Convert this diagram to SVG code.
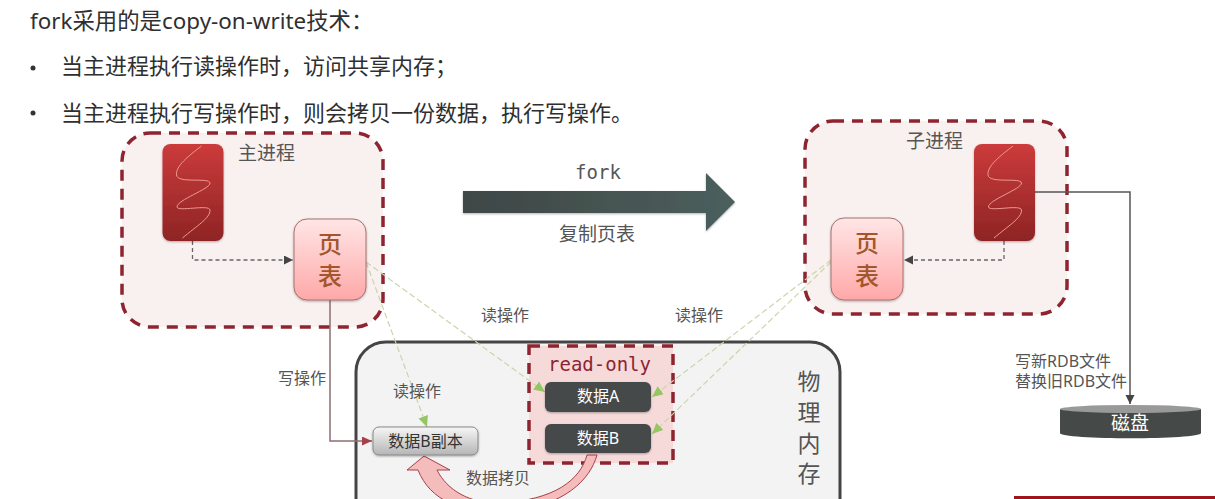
<svg xmlns="http://www.w3.org/2000/svg" width="1215" height="499" viewBox="0 0 1215 499">
<style>
text{font-family:"Noto Sans","Noto Sans CJK SC",sans-serif;fill:#555;font-size:16px}
.head{font-size:22px;fill:#2f2f2f}
.mono{font-family:"DejaVu Sans Mono","Liberation Mono",monospace;font-size:19px}
.big{font-size:19px}
.mid{text-anchor:middle}
.dark{fill:#fff;font-size:16px;text-anchor:middle}
.pg{font-size:24px;fill:#a3562c;text-anchor:middle;font-weight:500}
.zone{fill:#f9f1f0;stroke:#8e2430;stroke-width:3.5;stroke-dasharray:11 8}
.proc{fill:url(#procG);filter:url(#sh)}
.page{fill:url(#pageG);stroke:#a87070;stroke-width:1;filter:url(#sh)}
.data{fill:#454a48;filter:url(#sh)}
.dash{fill:none;stroke:#666;stroke-width:1.3;stroke-dasharray:4 3}
.green{fill:none;stroke:#c9d6ac;stroke-width:1.2;stroke-dasharray:6 3}
</style>
<defs>
<linearGradient id="procG" x1="0" y1="0" x2="0" y2="1"><stop offset="0" stop-color="#cc3b3b"/><stop offset="1" stop-color="#8e2424"/></linearGradient>
<linearGradient id="pageG" x1="0" y1="0" x2="0" y2="1"><stop offset="0" stop-color="#ffe6e6"/><stop offset="1" stop-color="#ffa8a8"/></linearGradient>
<linearGradient id="copyG" x1="0" y1="0" x2="0" y2="1"><stop offset="0" stop-color="#f7f7f7"/><stop offset="1" stop-color="#b5b5b5"/></linearGradient>
<linearGradient id="forkG" x1="0" y1="0" x2="1" y2="0"><stop offset="0" stop-color="#3f4745"/><stop offset="1" stop-color="#4b5f5d"/></linearGradient>
<filter id="sh" x="-10%" y="-10%" width="120%" height="120%"><feDropShadow dx="0" dy="1" stdDeviation="1" flood-color="#000" flood-opacity="0.3"/></filter>
<path id="wave" d="M39,2 C26,12 13,22 14,31 C15,40 47,33 47.500,39 C48,45 14,56 14.500,63 C15,68 47,60 47.500,66 C48,74 34,82 20,94" fill="none" stroke="#ee9a92" stroke-width="1"/>
<marker id="ag" markerUnits="userSpaceOnUse" markerWidth="12" markerHeight="12" refX="11" refY="5" orient="auto"><path d="M0,0 L11,5 L0,10 Z" fill="#94c661"/></marker>
<marker id="ad" markerUnits="userSpaceOnUse" markerWidth="10" markerHeight="10" refX="9" refY="4.500" orient="auto"><path d="M0,0 L9,4.500 L0,9 Z" fill="#444"/></marker>
<marker id="ar" markerUnits="userSpaceOnUse" markerWidth="12" markerHeight="10" refX="10" refY="4.500" orient="auto"><path d="M0,0 L10,4.500 L0,9 Z" fill="#a8404a"/></marker>
</defs>
<rect width="1215" height="499" fill="#fff"/>
<g id="intro">
<text class="head" x="30" y="29" style="font-size:22.4px">fork采用的是copy-on-write技术：</text>
<circle cx="33" cy="68" r="2.500" fill="#333"/>
<text class="head" x="61" y="74">当主进程执行读操作时，访问共享内存；</text>
<circle cx="33" cy="113" r="2.500" fill="#333"/>
<text class="head" x="61" y="121">当主进程执行写操作时，则会拷贝一份数据，执行写操作。</text>
</g>
<g id="main-process-zone"><rect class="zone" x="122" y="133" width="261" height="194" rx="28"/><text class="big" x="238" y="160">主进程</text></g>
<g id="child-process-zone"><rect class="zone" x="805" y="121" width="262" height="193" rx="28"/><text class="big" x="906" y="148">子进程</text></g>
<g id="physical-memory"><rect x="356" y="342" width="484" height="200" rx="30" fill="#f3f3f3" stroke="#444" stroke-width="3"/>
<text x="809" y="390" style="font-size:23px" text-anchor="middle">物</text><text x="809" y="421" style="font-size:23px" text-anchor="middle">理</text><text x="809" y="452" style="font-size:23px" text-anchor="middle">内</text><text x="809" y="482" style="font-size:23px" text-anchor="middle">存</text></g>
<g id="read-only"><rect x="529" y="346" width="144" height="117" fill="#f6dada" stroke="#8e2430" stroke-width="3.500" stroke-dasharray="11 8"/><text class="mono" x="548" y="371" style="fill:#8e2433">read-only</text></g>
<g id="connectors">
<path class="dash" d="M192.500,241 V260 H293" marker-end="url(#ad)"/>
<path class="dash" d="M1004,241 V260 H904" marker-end="url(#ad)"/>
<path d="M330,300 V441 H372" fill="none" stroke="#8c6f70" stroke-width="1.500" marker-end="url(#ar)"/>
<path d="M1035,192 H1130 V404" fill="none" stroke="#555" stroke-width="1.500" marker-end="url(#ad)"/>
<path class="green" d="M366,262 L427,427" marker-end="url(#ag)"/>
<path class="green" d="M366,262 L545,392" marker-end="url(#ag)"/>
<path class="green" d="M831,260 L652,397" marker-end="url(#ag)"/>
<path class="green" d="M831,262 L652,434" marker-end="url(#ag)"/>
</g>
<g id="main-process"><rect class="proc" x="162.500" y="144" width="61" height="97" rx="8"/><use href="#wave" x="162.500" y="144"/></g>
<g id="main-page-table"><rect class="page" x="294" y="219" width="72" height="81" rx="13"/><text class="pg" x="330" y="253">页</text><text class="pg" x="330" y="285">表</text></g>
<g id="child-process"><rect class="proc" x="974" y="144" width="61" height="97" rx="8"/><use href="#wave" x="974" y="144"/></g>
<g id="child-page-table"><rect class="page" x="831" y="218" width="72" height="82" rx="13"/><text class="pg" x="867" y="252">页</text><text class="pg" x="867" y="285">表</text></g>
<g id="fork-arrow"><path d="M463,191 H706 V173 L735,202 L706,231 V213 H463 Z" fill="url(#forkG)" filter="url(#sh)"/><text class="mono mid" x="598" y="179">fork</text><text class="big mid" x="597" y="241">复制页表</text></g>
<g id="copy-arrow"><path d="M587,455 C580,480 555,500 500,503 C470,504 447,490 437,470 H450 L424,456 L407,470 H418 C430,500 460,514 510,512 C565,505 590,480 597,455 Z" fill="#f5bcbc" stroke="#a8404a" stroke-width="1"/></g>
<g id="data-a"><rect class="data" x="545" y="382" width="106" height="30" rx="6"/><text class="dark" x="598" y="402">数据A</text></g>
<g id="data-b"><rect class="data" x="545" y="424" width="106" height="29" rx="6"/><text class="dark" x="598" y="444">数据B</text></g>
<g id="data-b-copy"><rect x="373" y="427" width="105" height="28" rx="6" fill="url(#copyG)" stroke="#888" filter="url(#sh)"/><text class="mid" x="425.500" y="447" style="fill:#333">数据B副本</text></g>
<g id="disk"><path d="M1060,409 V433 C1060,440 1201,440 1201,433 V409 Z" fill="#454a48"/><ellipse cx="1130.500" cy="409" rx="70.500" ry="4" fill="#999"/><text class="big mid" x="1130" y="430" style="fill:#fff">磁盘</text></g>
<g id="labels">
<text x="481" y="321">读操作</text><text x="675" y="321">读操作</text><text x="278" y="384">写操作</text><text x="393" y="397">读操作</text><text x="466" y="484">数据拷贝</text>
<text x="1015" y="367">写新RDB文件</text><text x="1015" y="387">替换旧RDB文件</text>
</g>
<rect id="bottom-edge" x="1014" y="496" width="201" height="3" fill="#a0141e"/>
</svg>
